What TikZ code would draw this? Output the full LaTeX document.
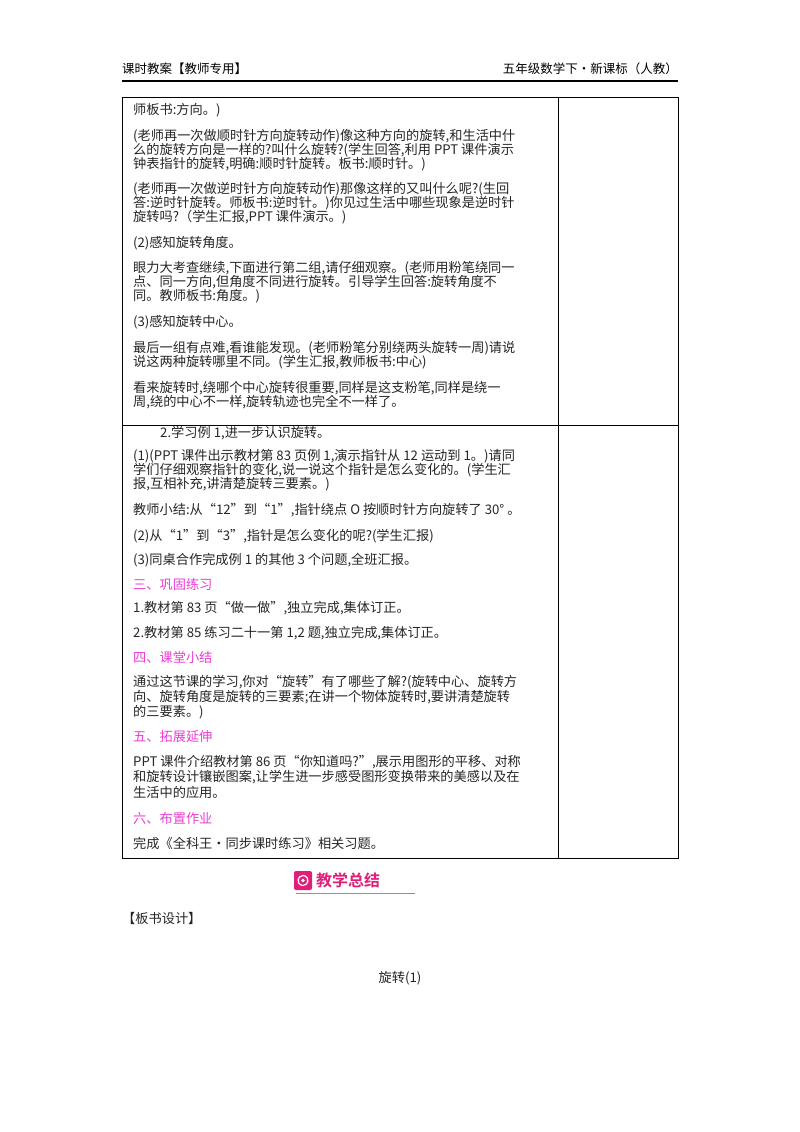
\documentclass[tikz,border=0pt]{standalone}
\usepackage{fontspec}
\newfontfamily\cjk{Noto Sans CJK SC}
\newfontfamily\cjkb{Noto Sans CJK SC Bold}
\definecolor{pk}{RGB}{235,60,215}
\definecolor{badge}{RGB}{225,30,120}
\begin{document}
\begin{tikzpicture}[x=1pt,y=-1pt,
  tx/.style={anchor=west,inner sep=0pt,font=\cjk\fontsize{13.2}{14}\selectfont,text=black!85},
  hd/.style={tx,text=pk},
  hdr/.style={inner sep=0pt,font=\cjk\fontsize{12.5}{14}\selectfont}]
\useasboundingbox (0,0) rectangle (800,1132);
\fill[white] (0,0) rectangle (800,1132);
% header
\node[hdr,anchor=west] (hl) at (122,69) {课时教案【教师专用】};
\node[hdr,anchor=east] (hr) at (678,69) {五年级数学下·新课标（人教）};
\draw[line width=1.6pt] (122,81) -- (678,81);
% table
\draw[line width=1pt] (122,97) rectangle (678,858);
\draw[line width=1pt] (558,97) -- (558,858);
\draw[line width=1pt] (122,425) -- (678,425);
\def\L{133}
\node[tx] (t1) at (\L,110) {师板书:方向。)};
\node[tx] (t2) at (\L,136) {(老师再一次做顺时针方向旋转动作)像这种方向的旋转,和生活中什};
\node[tx] (t3) at (\L,150) {么的旋转方向是一样的?叫什么旋转?(学生回答,利用 PPT 课件演示};
\node[tx] (t4) at (\L,164) {钟表指针的旋转,明确:顺时针旋转。板书:顺时针。)};
\node[tx] (t5) at (\L,189) {(老师再一次做逆时针方向旋转动作)那像这样的又叫什么呢?(生回};
\node[tx] (t6) at (\L,203) {答:逆时针旋转。师板书:逆时针。)你见过生活中哪些现象是逆时针};
\node[tx] (t7) at (\L,217) {旋转吗?（学生汇报,PPT 课件演示。)};
\node[tx] (t8) at (\L,243) {(2)感知旋转角度。};
\node[tx] (t9) at (\L,268) {眼力大考查继续,下面进行第二组,请仔细观察。(老师用粉笔绕同一};
\node[tx] (t10) at (\L,282) {点、同一方向,但角度不同进行旋转。引导学生回答:旋转角度不};
\node[tx] (t11) at (\L,296) {同。教师板书:角度。)};
\node[tx] (t12) at (\L,322) {(3)感知旋转中心。};
\node[tx] (t13) at (\L,348) {最后一组有点难,看谁能发现。(老师粉笔分别绕两头旋转一周)请说};
\node[tx] (t14) at (\L,362) {说这两种旋转哪里不同。(学生汇报,教师板书:中心)};
\node[tx] (t15) at (\L,388) {看来旋转时,绕哪个中心旋转很重要,同样是这支粉笔,同样是绕一};
\node[tx] (t16) at (\L,402) {周,绕的中心不一样,旋转轨迹也完全不一样了。};
\node[tx] (u1) at (160,433) {2.学习例 1,进一步认识旋转。};
\node[tx] (u2) at (\L,456) {(1)(PPT 课件出示教材第 83 页例 1,演示指针从 12 运动到 1。)请同};
\node[tx] (u3) at (\L,470) {学们仔细观察指针的变化,说一说这个指针是怎么变化的。(学生汇};
\node[tx] (u4) at (\L,484) {报,互相补充,讲清楚旋转三要素。)};
\node[tx] (u5) at (\L,510) {教师小结:从“12”到“1”,指针绕点 \textit{O} 按顺时针方向旋转了 30°\ 。};
\node[tx] (u6) at (\L,536) {(2)从“1”到“3”,指针是怎么变化的呢?(学生汇报)};
\node[tx] (u7) at (\L,560) {(3)同桌合作完成例 1 的其他 3 个问题,全班汇报。};
\node[hd] (h3) at (\L,584) {三、巩固练习};
\node[tx] (u8) at (\L,608) {1.教材第 83 页“做一做”,独立完成,集体订正。};
\node[tx] (u9) at (\L,633) {2.教材第 85 练习二十一第 1,2 题,独立完成,集体订正。};
\node[hd] (h4) at (\L,657) {四、课堂小结};
\node[tx] (u10) at (\L,682) {通过这节课的学习,你对“旋转”有了哪些了解?(旋转中心、旋转方};
\node[tx] (u11) at (\L,697) {向、旋转角度是旋转的三要素;在讲一个物体旋转时,要讲清楚旋转};
\node[tx] (u12) at (\L,712) {的三要素。)};
\node[hd] (h5) at (\L,737) {五、拓展延伸};
\node[tx] (u13) at (\L,762) {PPT 课件介绍教材第 86 页“你知道吗?”,展示用图形的平移、对称};
\node[tx] (u14) at (\L,777) {和旋转设计镶嵌图案,让学生进一步感受图形变换带来的美感以及在};
\node[tx] (u15) at (\L,792) {生活中的应用。};
\node[hd] (h6) at (\L,818) {六、布置作业};
\node[tx] (u16) at (\L,843) {完成《全科王·同步课时练习》相关习题。};
% badge
\fill[badge,rounded corners=2pt] (294,871) rectangle (312,890);
\draw[white,line width=1.2pt] (303,880.5) ++(0:5) arc (0:200:5);
\draw[white,line width=1.2pt] (303,880.5) ++(180:5) arc (180:380:5) ;
\fill[white] (303,880.5) circle (1.8);
\node[inner sep=0pt,anchor=west,font=\cjkb\fontsize{16}{17}\selectfont,text=badge] (bt) at (316,880.5) {教学总结};
\draw[badge!70,line width=0.6pt] (296,893) -- (415,893);
\node[tx] (bs) at (122,918) {【板书设计】};
\node[tx,anchor=center] (xz) at (400,978) {旋转(1)};
\end{tikzpicture}
\end{document}
